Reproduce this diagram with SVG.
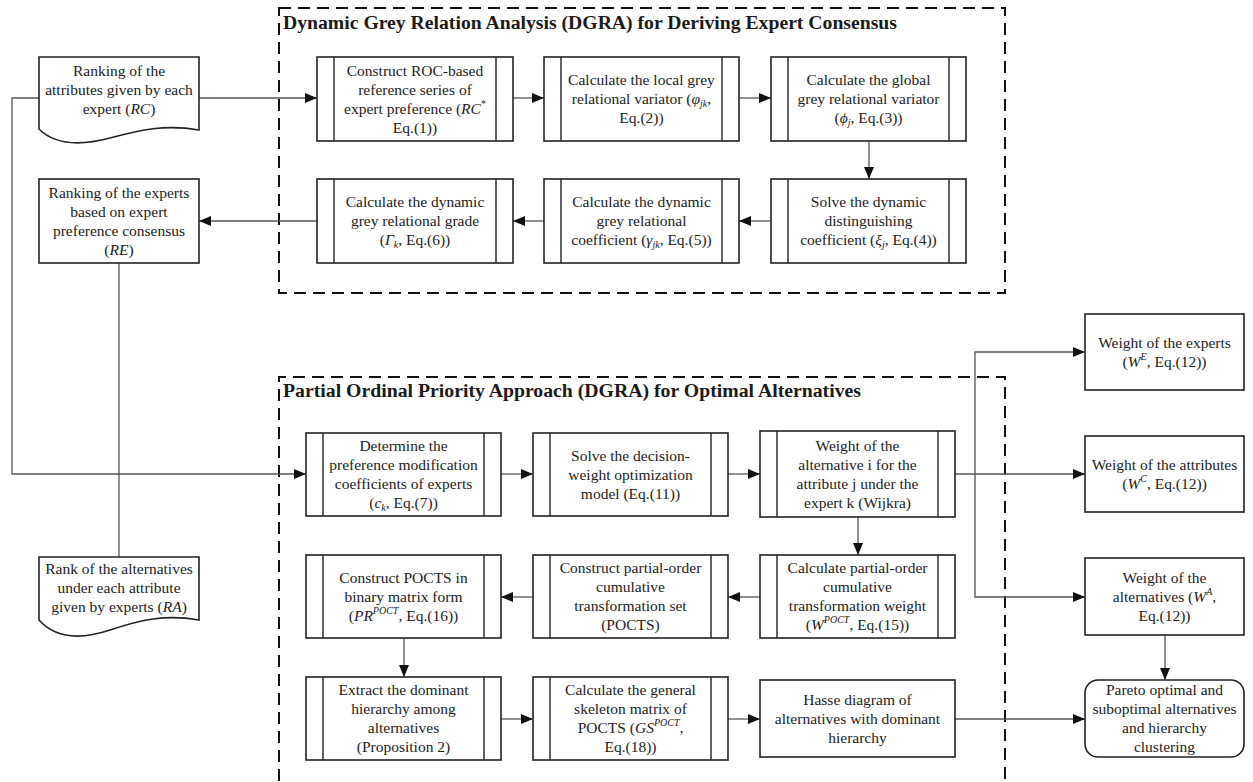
<svg xmlns="http://www.w3.org/2000/svg" width="1253" height="782" viewBox="0 0 1253 782">
<style>
.bx{fill:#fff;stroke:#222;stroke-width:1.6}
.ln{fill:none;stroke:#222;stroke-width:1.4}
.ds{fill:none;stroke:#111;stroke-width:2;stroke-dasharray:12 7}
.c{fill:none;stroke:#555;stroke-width:1.3}
.ca{fill:none;stroke:#555;stroke-width:1.3;marker-end:url(#ah)}
text{font-family:Liberation Serif,Tinos,Times New Roman,Times,DejaVu Serif,Noto Serif,serif;font-size:15.5px;fill:#222}
.t{text-anchor:middle}
.ti{font-weight:bold;font-size:18.5px;fill:#1a1a1a}
.i{font-style:italic}
.s{font-size:10px}
</style>
<defs>
<marker id="ah" viewBox="0 0 12 10" refX="12" refY="5" markerWidth="12" markerHeight="10" markerUnits="userSpaceOnUse" orient="auto">
<path d="M0,0 L12,5 L0,10 z" fill="#111"/>
</marker>
</defs>

<g id="dgra-frame">
<rect class="ds" x="279" y="8" width="726" height="285"/>
<text class="ti" x="283" y="29" textLength="614" lengthAdjust="spacingAndGlyphs">Dynamic Grey Relation Analysis (DGRA) for Deriving Expert Consensus</text>
</g>
<g id="poa-frame">
<path class="ds" d="M279,800 L279,377 L1005,377 L1005,800"/>
<text class="ti" x="283" y="397" textLength="578" lengthAdjust="spacingAndGlyphs">Partial Ordinal Priority Approach (DGRA) for Optimal Alternatives</text>
</g>

<g id="connectors">
<path class="ca" d="M199,98 L317,98"/>
<path class="ca" d="M39,98 L12,98 L12,474 L306,474"/>
<path class="ca" d="M513,98 L544,98"/>
<path class="ca" d="M739,98 L771,98"/>
<path class="ca" d="M869,141 L869,179"/>
<path class="ca" d="M771,221 L739,221"/>
<path class="ca" d="M544,221 L513,221"/>
<path class="ca" d="M317,221 L199,221"/>
<path class="c" d="M119,263 L119,557"/>
<path class="ca" d="M501,474 L533,474"/>
<path class="ca" d="M728,474 L760,474"/>
<path class="ca" d="M955,474 L1085,474"/>
<path class="ca" d="M975,474 L975,352 L1085,352"/>
<path class="ca" d="M975,474 L975,597 L1085,597"/>
<path class="ca" d="M858,517 L858,555"/>
<path class="ca" d="M760,597 L728,597"/>
<path class="ca" d="M533,597 L501,597"/>
<path class="ca" d="M404,638 L404,677"/>
<path class="ca" d="M501,719 L533,719"/>
<path class="ca" d="M728,719 L760,719"/>
<path class="ca" d="M955,719 L1085,719"/>
<path class="ca" d="M1165,635 L1165,680"/>
</g>

<g id="n-rc">
<path class="bx" d="M39,57 L199,57 L199,130 C165,124 140,130 110,138 C80,146 55,145 39,129 Z"/>
<text class="t" x="119" y="76">Ranking of the</text>
<text class="t" x="119" y="95">attributes given by each</text>
<text class="t" x="119" y="114">expert (<tspan class="i">RC</tspan>)</text>
</g>
<g id="n-re">
<rect class="bx" x="39" y="179" width="160" height="84"/>
<text class="t" x="119" y="198">Ranking of the experts</text>
<text class="t" x="119" y="217">based on expert</text>
<text class="t" x="119" y="236">preference consensus</text>
<text class="t" x="119" y="255">(<tspan class="i">RE</tspan>)</text>
</g>
<g id="n-ra">
<path class="bx" d="M39,557 L199,557 L199,620 C165,614 140,620 110,630 C80,640 55,638 39,620 Z"/>
<text class="t" x="119" y="574">Rank of the alternatives</text>
<text class="t" x="119" y="593">under each attribute</text>
<text class="t" x="119" y="612">given by experts (<tspan class="i">RA</tspan>)</text>
</g>

<g id="n-roc">
<rect class="bx" x="317" y="57" width="196" height="84"/>
<path class="ln" d="M334,57 V141 M496,57 V141"/>
<text class="t" x="415" y="76">Construct ROC-based</text>
<text class="t" x="415" y="95">reference series of</text>
<text class="t" x="415" y="114">expert preference (<tspan class="i">RC</tspan><tspan class="s" dy="-7">*</tspan></text>
<text class="t" x="415" y="133">Eq.(1))</text>
</g>
<g id="n-local">
<rect class="bx" x="544" y="57" width="195" height="84"/>
<path class="ln" d="M561,57 V141 M722,57 V141"/>
<text class="t" x="641.5" y="85">Calculate the local grey</text>
<text class="t" x="641.5" y="104">relational variator (<tspan class="i">φ</tspan><tspan class="i s" dy="3">jk</tspan><tspan dy="-3">,</tspan></text>
<text class="t" x="641.5" y="123">Eq.(2))</text>
</g>
<g id="n-global">
<rect class="bx" x="771" y="57" width="195" height="84"/>
<path class="ln" d="M788,57 V141 M949,57 V141"/>
<text class="t" x="868.5" y="85">Calculate the global</text>
<text class="t" x="868.5" y="104">grey relational variator</text>
<text class="t" x="868.5" y="123">(<tspan class="i">ϕ</tspan><tspan class="i s" dy="3">j</tspan><tspan dy="-3">, Eq.(3))</tspan></text>
</g>
<g id="n-grade">
<rect class="bx" x="317" y="179" width="196" height="84"/>
<path class="ln" d="M334,179 V263 M496,179 V263"/>
<text class="t" x="415" y="207">Calculate the dynamic</text>
<text class="t" x="415" y="226">grey relational grade</text>
<text class="t" x="415" y="245">(<tspan class="i">Γ</tspan><tspan class="i s" dy="3">k</tspan><tspan dy="-3">, Eq.(6))</tspan></text>
</g>
<g id="n-coef">
<rect class="bx" x="544" y="179" width="195" height="84"/>
<path class="ln" d="M561,179 V263 M722,179 V263"/>
<text class="t" x="641.5" y="207">Calculate the dynamic</text>
<text class="t" x="641.5" y="226">grey relational</text>
<text class="t" x="641.5" y="245">coefficient (<tspan class="i">γ</tspan><tspan class="i s" dy="3">jk</tspan><tspan dy="-3">, Eq.(5))</tspan></text>
</g>
<g id="n-dist">
<rect class="bx" x="771" y="179" width="195" height="84"/>
<path class="ln" d="M788,179 V263 M949,179 V263"/>
<text class="t" x="868.5" y="207">Solve the dynamic</text>
<text class="t" x="868.5" y="226">distinguishing</text>
<text class="t" x="868.5" y="245">coefficient (<tspan class="i">ξ</tspan><tspan class="i s" dy="3">j</tspan><tspan dy="-3">, Eq.(4))</tspan></text>
</g>

<g id="n-determine">
<rect class="bx" x="306" y="433" width="195" height="83"/>
<path class="ln" d="M323,433 V516 M484,433 V516"/>
<text class="t" x="403.5" y="451">Determine the</text>
<text class="t" x="403.5" y="470">preference modification</text>
<text class="t" x="403.5" y="489">coefficients of experts</text>
<text class="t" x="403.5" y="508">(<tspan class="i">c</tspan><tspan class="i s" dy="3">k</tspan><tspan dy="-3">, Eq.(7))</tspan></text>
</g>
<g id="n-solve">
<rect class="bx" x="533" y="433" width="195" height="83"/>
<path class="ln" d="M550,433 V516 M711,433 V516"/>
<text class="t" x="630.5" y="461">Solve the decision-</text>
<text class="t" x="630.5" y="480">weight optimization</text>
<text class="t" x="630.5" y="499">model  (Eq.(11))</text>
</g>
<g id="n-wijk">
<rect class="bx" x="760" y="431" width="195" height="86"/>
<path class="ln" d="M777,431 V517 M938,431 V517"/>
<text class="t" x="857.5" y="451">Weight of  the</text>
<text class="t" x="857.5" y="470">alternative i for the</text>
<text class="t" x="857.5" y="489">attribute j under  the</text>
<text class="t" x="857.5" y="508">expert k (Wijkra)</text>
</g>
<g id="n-binary">
<rect class="bx" x="306" y="555" width="195" height="83"/>
<path class="ln" d="M323,555 V638 M484,555 V638"/>
<text class="t" x="403.5" y="583">Construct POCTS in</text>
<text class="t" x="403.5" y="602">binary matrix form</text>
<text class="t" x="403.5" y="621">(<tspan class="i">PR</tspan><tspan class="i s" dy="-7">POCT</tspan><tspan dy="7">, Eq.(16))</tspan></text>
</g>
<g id="n-pocts">
<rect class="bx" x="533" y="555" width="195" height="83"/>
<path class="ln" d="M550,555 V638 M711,555 V638"/>
<text class="t" x="630.5" y="573">Construct partial-order</text>
<text class="t" x="630.5" y="592">cumulative</text>
<text class="t" x="630.5" y="611">transformation set</text>
<text class="t" x="630.5" y="630">(POCTS)</text>
</g>
<g id="n-wpoct">
<rect class="bx" x="760" y="555" width="195" height="83"/>
<path class="ln" d="M777,555 V638 M938,555 V638"/>
<text class="t" x="857.5" y="573">Calculate partial-order</text>
<text class="t" x="857.5" y="592">cumulative</text>
<text class="t" x="857.5" y="611">transformation weight</text>
<text class="t" x="857.5" y="630">(<tspan class="i">W</tspan><tspan class="i s" dy="-7">POCT</tspan><tspan dy="7">, Eq.(15))</tspan></text>
</g>
<g id="n-extract">
<rect class="bx" x="306" y="677" width="195" height="83"/>
<path class="ln" d="M323,677 V760 M484,677 V760"/>
<text class="t" x="403.5" y="695">Extract the dominant</text>
<text class="t" x="403.5" y="714">hierarchy among</text>
<text class="t" x="403.5" y="733">alternatives</text>
<text class="t" x="403.5" y="752">(Proposition 2)</text>
</g>
<g id="n-skeleton">
<rect class="bx" x="533" y="677" width="195" height="83"/>
<path class="ln" d="M550,677 V760 M711,677 V760"/>
<text class="t" x="630.5" y="695">Calculate the general</text>
<text class="t" x="630.5" y="714">skeleton matrix of</text>
<text class="t" x="630.5" y="733">POCTS (<tspan class="i">GS</tspan><tspan class="i s" dy="-7">POCT</tspan><tspan dy="7">,</tspan></text>
<text class="t" x="630.5" y="752">Eq.(18))</text>
</g>
<g id="n-hasse">
<rect class="bx" x="760" y="680" width="195" height="77"/>
<text class="t" x="857.5" y="705">Hasse diagram of</text>
<text class="t" x="857.5" y="724">alternatives with dominant</text>
<text class="t" x="857.5" y="743">hierarchy</text>
</g>

<g id="n-we">
<rect class="bx" x="1085" y="314" width="159" height="76"/>
<text class="t" x="1164.5" y="348">Weight of the experts</text>
<text class="t" x="1164.5" y="367">(<tspan class="i">W</tspan><tspan class="i s" dy="-7">E</tspan><tspan dy="7">, Eq.(12))</tspan></text>
</g>
<g id="n-wc">
<rect class="bx" x="1085" y="436" width="159" height="76"/>
<text class="t" x="1164.5" y="470">Weight of the attributes</text>
<text class="t" x="1164.5" y="489">(<tspan class="i">W</tspan><tspan class="i s" dy="-7">C</tspan><tspan dy="7">, Eq.(12))</tspan></text>
</g>
<g id="n-wa">
<rect class="bx" x="1085" y="558" width="159" height="77"/>
<text class="t" x="1164.5" y="583">Weight of the</text>
<text class="t" x="1164.5" y="602">alternatives (<tspan class="i">W</tspan><tspan class="i s" dy="-7">A</tspan><tspan dy="7">,</tspan></text>
<text class="t" x="1164.5" y="621">Eq.(12))</text>
</g>
<g id="n-pareto">
<rect class="bx" x="1085" y="680" width="159" height="77" rx="13" ry="13"/>
<text class="t" x="1164.5" y="695">Pareto optimal and</text>
<text class="t" x="1164.5" y="714">suboptimal alternatives</text>
<text class="t" x="1164.5" y="733">and hierarchy</text>
<text class="t" x="1164.5" y="752">clustering</text>
</g>
</svg>
